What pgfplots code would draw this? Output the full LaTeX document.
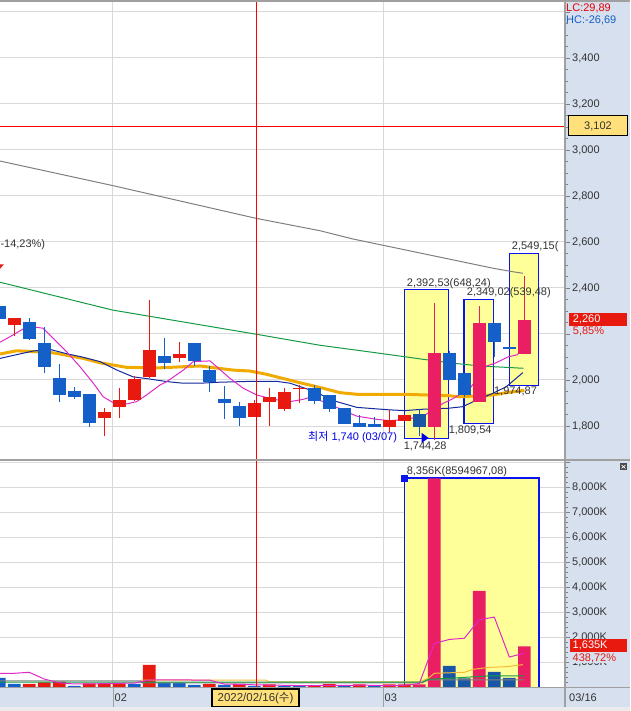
\documentclass[border=0pt]{standalone}
\usepackage{pgfplots}
\pgfplotsset{compat=1.18}
\usepackage{pgfplotstable}
\usepackage{fontspec}
\setmainfont{Liberation Sans}
\newfontfamily\kr{Noto Sans CJK KR}
\newcommand\fs{\fontsize{11}{12}\selectfont}

\definecolor{cred}{HTML}{E8190F}
\definecolor{cblue}{HTML}{1560C8}
\definecolor{cdblue}{HTML}{1A56A6}
\definecolor{cpink}{HTML}{E91E63}
\definecolor{mag}{HTML}{E02AC8}
\definecolor{navy}{HTML}{1428A0}
\definecolor{corange}{HTML}{F0AA00}
\definecolor{cgreen}{HTML}{159A45}
\definecolor{cgray}{HTML}{7F7F7F}
\definecolor{gridc}{HTML}{D9D9D9}
\definecolor{panel}{HTML}{D6E0EE}
\definecolor{hl}{HTML}{FFFF99}
\definecolor{boxblue}{HTML}{0A14F0}
\definecolor{txt}{HTML}{333333}
\definecolor{tickc}{HTML}{808080}
\definecolor{datey}{HTML}{FFE07A}
\definecolor{frame}{HTML}{A0A0A0}

% daily candles: index, open, high, low, close
\pgfplotstableread{
i  o    h    l    c
1  2240 2270 2193 2270
7  1836 1880 1758 1861
8  1884 1965 1836 1913
9  1914 2017 1909 2004
10 2014 2348 2007 2130
12 2097 2165 2080 2113
17 1840 1913 1838 1900
18 1906 1967 1801 1926
19 1875 1967 1865 1948
20 1960 1978 1901 1967
26 1797 1870 1775 1826
27 1823 1848 1823 1848
}\tred
\pgfplotstableread{
i  o    h    l    c
0  2322 2326 2262 2266
2  2252 2271 2174 2180
3  2161 2229 2029 2058
4  2009 2070 1906 1936
5  1952 1970 1916 1927
6  1939 1939 1794 1814
11 2104 2181 2047 2075
13 2161 2161 2062 2084
14 2043 2061 1949 1991
15 1917 1974 1832 1901
16 1887 1906 1801 1836
21 1967 1977 1896 1910
22 1935 1935 1862 1874
23 1878 1878 1810 1810
24 1812 1848 1797 1797
25 1809 1839 1797 1797
30 2117 2127 2001 2001
31 2030 2030 1927 1935
33 2248 2248 2101 2167
34 2145 2145 2133 2133
}\tblue
\pgfplotstableread{
i  o    h    l    c
28 1851 1873 1757 1797
}\tdblue
\pgfplotstableread{
i  o    h    l    c
29 1797 2333 1740 2117
32 1906 2322 1906 2248
35 2114 2453 2114 2261
}\tpink

% volume (thousands)
\pgfplotstableread{
i v
2 132
3 200
4 224
6 160
7 160
8 160
10 892
14 132
16 132
18 120
21 64
22 132
24 120
26 120
27 120
}\vred
\pgfplotstableread{
i v
0 372
1 132
5 52
9 132
11 172
12 172
13 92
15 92
17 52
19 52
20 52
23 52
25 52
}\vblue
\pgfplotstableread{
i v
30 852
31 360
33 612
34 372
}\vdblue
\pgfplotstableread{
i v
28 120
29 8356
32 3852
35 1635
}\vpink

\pgfplotsset{
  wick/.style={draw=none, mark=none, forget plot,
    error bars/.cd, y dir=both, y explicit,
    error mark=none, error bar style={solid, line width=1pt, draw=#1}},
  body/.style={draw=none, mark=none, forget plot,
    error bars/.cd, y dir=both, y explicit,
    error mark=none, error bar style={solid, line width=12.7pt, draw=#1}},
  panelaxis/.style={anchor=south west, scale only axis, width=565pt,
    xmin=0.05, xmax=37.71, axis line style={draw=none},
    xtick={7.58,25.58}, xticklabels={}, xtick style={draw=none},
    ytick pos=right, yticklabel pos=right, tick align=outside,
    major tick length=5pt, minor tick length=2.5pt,
    ytick style={color=tickc, line width=0.8pt},
    grid=major, major grid style={color=gridc, line width=1pt},
    yticklabel style={font=\fs, color=txt, anchor=west, inner sep=0pt, xshift=2pt}},
}

\newcommand\candles[2]{%
  \addplot[wick=#2] table[x=i, y=c, y error plus expr=\thisrow{h}-\thisrow{c},
    y error minus expr=\thisrow{c}-\thisrow{l}] {#1};
  \addplot[body=#2] table[x=i, y expr=(\thisrow{o}+\thisrow{c})/2,
    y error expr={max(abs(\thisrow{o}-\thisrow{c})/2,3)}] {#1};}

\begin{document}
\begin{tikzpicture}
\begin{scope}[x=1pt,y=1pt]
\fill[panel] (565,23) rectangle (630,711);
\fill[panel] (0,4) rectangle (630,23);
\fill[black!8] (0,0) rectangle (630,4);
\end{scope}

% ---------- price panel ----------
\begin{axis}[panelaxis, at={(0pt,251pt)}, height=460pt,
  ymin=1652.2, ymax=3652.2,
  ytick={1800,2000,...,3600},
  yticklabels={1{,}800,2{,}000,{},2{,}400,2{,}600,2{,}800,3{,}000,3{,}200,3{,}400,{}},
  minor y tick num=3]

\addplot[fill=hl, draw=boxblue, line width=1.3pt] coordinates {(27.0,1744.28) (29.93,1744.28) (29.93,2392.53) (27.0,2392.53)} -- cycle;
\addplot[fill=hl, draw=boxblue, line width=1.3pt] coordinates {(30.98,1809.54) (32.93,1809.54) (32.93,2349.02) (30.98,2349.02)} -- cycle;
\addplot[fill=hl, draw=boxblue, line width=1.3pt] coordinates {(34.0,1974.87) (35.93,1974.87) (35.93,2549.15) (34.0,2549.15)} -- cycle;

\addplot[cgray, line width=1pt] coordinates {(0.05,2952) (7.58,2845) (17.11,2703) (21.38,2649) (23.58,2613) (32.91,2486) (34.2,2471) (34.91,2464)};
\addplot[cgreen, line width=1pt] coordinates {(0.05,2425) (7.56,2304) (17.13,2199) (21.38,2151) (25.38,2116) (28.25,2090) (30.25,2073) (32.05,2061) (34.93,2051)};
\addplot[corange, line width=3pt] coordinates {(0.05,2113) (1.16,2127) (3.38,2120) (4.05,2113) (5.6,2094) (6.71,2075) (7.6,2065) (8.49,2055) (10.71,2053) (13.38,2061) (15.6,2043) (16.71,2039) (17.8,2025) (18.9,2007) (20.05,1988) (21.6,1964) (22.71,1945) (23.82,1938) (26.93,1938) (29.9,1932) (30.7,1927) (32.9,1935) (33.8,1945) (35.0,1955)};
\addplot[navy, line width=1pt] coordinates {(0.05,2094) (2.25,2126) (3.38,2133) (4.51,2114) (5.58,2099) (6.71,2080) (7.85,2043) (8.91,2014) (10.05,2004) (11.18,1993) (12.25,1986) (13.38,1986) (14.51,1990) (16.71,1994) (18.51,1994) (19.38,1986) (20.71,1957) (21.49,1935) (22.49,1906) (23.83,1881) (26.05,1870) (27.05,1867) (28.25,1873) (29.9,1877) (30.9,1884) (31.6,1906) (32.9,1942) (33.8,1971) (34.9,2032)};
\addplot[mag, line width=1pt] coordinates {(0.05,2164) (0.71,2188) (1.6,2222) (2.49,2229) (2.93,2225) (3.6,2181) (4.49,2123) (5.38,2058) (6.27,1986) (6.93,1927) (7.6,1901) (8.49,1896) (9.16,1906) (9.82,1935) (10.71,1978) (11.16,1993) (12.27,2043) (12.93,2080) (14.05,2083) (14.49,2058) (15.38,2007) (16.27,1964) (17.16,1935) (18.27,1916) (19.38,1906) (20.27,1916) (20.71,1925) (21.6,1906) (22.49,1881) (23.82,1843) (25.16,1829) (26.05,1823) (27.05,1829) (28.27,1843) (29.6,1899) (30.16,1916) (31.38,1964) (32.49,2061) (33.05,2073) (33.93,2101) (34.49,2109) (34.93,2130)};

\candles{\tred}{cred}
\candles{\tblue}{cblue}
\candles{\tdblue}{cdblue}
\candles{\tpink}{cpink}

\fill[cred] (axis cs:-0.35,2503) -- (axis cs:0.31,2503) -- (axis cs:-0.02,2478) -- cycle;
\node[font=\fs, color=txt, anchor=west, inner sep=0pt] at (axis cs:0.07,2587) {-14,23\%)};
\node[font=\fs, color=txt, anchor=west, inner sep=0pt] at (axis cs:27.16,2420) {2,392,53(648,24)};
\node[font=\fs, color=txt, anchor=west, inner sep=0pt] at (axis cs:31.16,2378) {2,349,02(539,48)};
\node[font=\fs, color=txt, anchor=west, inner sep=0pt] at (axis cs:34.16,2580) {2,549,15(};
\node[font=\fs, color=txt, anchor=east, inner sep=0pt] at (axis cs:35.85,1949) {1,974,87};
\node[font=\fs, color=txt, anchor=east, inner sep=0pt] at (axis cs:32.83,1783) {1,809,54};
\node[font=\fs, color=txt, anchor=east, inner sep=0pt] at (axis cs:29.83,1713) {1,744,28};
\node[font=\fs, color=blue!90!black, anchor=west, inner sep=0pt] at (axis cs:20.58,1750) {{\kr 최저} 1,740 (03/07)};
\fill[blue!90!black] (axis cs:28.16,1770) -- (axis cs:28.16,1727) -- (axis cs:28.62,1748) -- cycle;
\end{axis}

% ---------- volume panel ----------
\begin{axis}[panelaxis, at={(0pt,23pt)}, height=228pt,
  ymin=-28, ymax=9092,
  ytick={0,1000,...,9000},
  yticklabels={{},1{,}000K,2{,}000K,3{,}000K,4{,}000K,5{,}000K,6{,}000K,7{,}000K,8{,}000K,{}},
  minor y tick num=4]

\addplot[fill=hl, draw=boxblue, line width=1.3pt] coordinates {(27.0,-40) (35.97,-40) (35.97,8372) (27.0,8372)} -- cycle;

\addplot[ybar, bar width=12.7pt, bar shift=0pt, fill=cred, draw=none] table[x=i, y=v] {\vred};
\addplot[ybar, bar width=12.7pt, bar shift=0pt, fill=cblue, draw=none] table[x=i, y=v] {\vblue};
\addplot[ybar, bar width=12.7pt, bar shift=0pt, fill=cdblue, draw=none] table[x=i, y=v] {\vdblue};
\addplot[ybar, bar width=12.7pt, bar shift=0pt, fill=cpink, draw=none] table[x=i, y=v] {\vpink};

\addplot[corange!80!white, line width=1pt] coordinates {(9.45,290) (17.75,290) (18,215) (28,215) (28.6,360) (29,560) (31,600) (31.6,720) (32.7,800) (33.8,824) (34.9,904)};
\addplot[cgray, line width=1pt] coordinates {(0.05,252) (9.45,252) (9.5,180) (28.2,180) (28.6,292) (35,292)};
\addplot[cgreen, line width=1pt] coordinates {(0.05,205) (28.2,205) (28.6,320) (30,360) (32.5,452) (35,452)};
\addplot[mag, line width=1pt] coordinates {(0,560) (1,560) (2,600) (3,330) (4,180) (5,132) (6,132) (7,150) (8,160) (9,170) (10,290) (11,300) (12,300) (13,290) (14,290) (15,130) (16,120) (17,100) (18,90) (19,80) (20,70) (21,70) (22,75) (23,75) (24,85) (25,80) (26,60) (27,80) (28,150) (29,1754) (30,1914) (31,1962) (32,2708) (33,2806) (34,1210) (35,1366)};

\addplot[only marks, mark=square*, mark size=3pt, boxblue] coordinates {(27.0,8372)};
\node[font=\fs, color=txt, anchor=west, inner sep=0pt] at (axis cs:27.15,8624) {8,356K(8594967,08)};
\end{axis}

% ---------- frame, cursor and side labels ----------
\begin{scope}[x=1pt,y=1pt]
\draw[red, line width=1pt] (256.5,23) -- (256.5,711);
\draw[red, line width=1pt] (0,584.3) -- (565,584.3);
\draw[frame, line width=1.5pt] (0,710.2) -- (630,710.2);
\draw[frame, line width=2pt] (0,250.5) -- (630,250.5);
\draw[frame, line width=1.5pt] (565,4) -- (565,711);
\draw[frame, line width=1pt] (0,23) -- (630,23);
\draw[frame, line width=1pt] (113,4) -- (113,23) (383,4) -- (383,23);

\node[font=\fs, color=red!90!black, anchor=west, inner sep=0pt] at (566,703) {LC:29,89};
\node[font=\fs, color=cblue, anchor=west, inner sep=0pt] at (566,690.5) {HC:-26,69};
\draw[fill=datey, draw=black, line width=1pt] (568.3,575) rectangle (627.3,595);
\node[font=\fs, color=txt, inner sep=0pt] at (598,585) {3,102};
\fill[cred] (569.3,385.3) rectangle (626.7,398);
\node[font=\fs, color=white, anchor=west, inner sep=0pt] at (572.7,391.6) {2,260};
\node[font=\fs, color=cred, anchor=west, inner sep=0pt] at (572.7,379.7) {5,85\%};
\fill[panel] (569,48.3) rectangle (628,59.3);
\fill[cred] (569.7,59.3) rectangle (626.8,72);
\node[font=\fs, color=white, anchor=west, inner sep=0pt] at (572.5,65.6) {1,635K};
\node[font=\fs, color=cred, anchor=west, inner sep=0pt] at (572.5,52.7) {438,72\%};
\fill[black!70] (620,241) rectangle (627,247.5);
\draw[white, line width=0.6pt] (621.5,242.5) -- (625.5,246) (621.5,246) -- (625.5,242.5);

\node[font=\fs, color=txt, anchor=west, inner sep=0pt] at (114.5,13) {02};
\node[font=\fs, color=txt, anchor=west, inner sep=0pt] at (384.5,13) {03};
\node[font=\fs, color=txt, anchor=west, inner sep=0pt] at (569,13) {03/16};
\draw[fill=datey, draw=black, line width=1.2pt] (212,4.3) rectangle (299,22);
\node[font=\fontsize{11.5}{12}\selectfont, color=txt, inner sep=0pt] at (255.5,13.2) {2022/02/16({\kr 수})};
\end{scope}

\pgfresetboundingbox
\path[use as bounding box] (0pt,0pt) rectangle (630pt,711pt);
\end{tikzpicture}
\end{document}
